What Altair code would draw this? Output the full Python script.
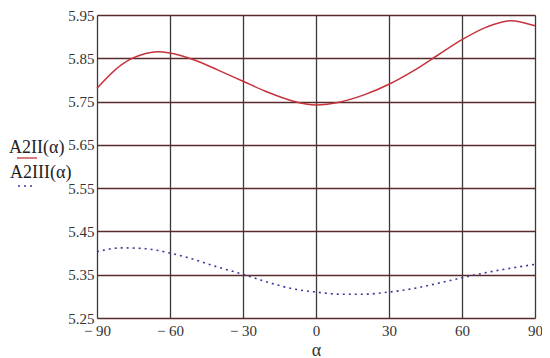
import altair as alt
import pandas as pd

alpha = [-90, -80, -70, -65, -60, -50, -40, -30, -20, -10, 0, 10, 20, 30, 40, 50, 60, 70, 80, 90]
a2ii = [5.781, 5.835, 5.861, 5.865, 5.862, 5.846, 5.822, 5.797, 5.772, 5.752, 5.742, 5.749, 5.766, 5.790,
        5.821, 5.857, 5.893, 5.922, 5.937, 5.925]
alpha_b = [-90, -80, -70, -60, -50, -40, -30, -20, -10, 0, 10, 20, 30, 40, 50, 60, 70, 80, 90]
a2iii = [5.403, 5.412, 5.410, 5.400, 5.385, 5.367, 5.351, 5.333, 5.318, 5.310, 5.305, 5.305, 5.310,
         5.318, 5.330, 5.343, 5.355, 5.365, 5.374]

x_ticks = [-90, -60, -30, 0, 30, 60, 90]
y_ticks = [5.25, 5.35, 5.45, 5.55, 5.65, 5.75, 5.85, 5.95]

df_r = pd.DataFrame({"alpha": alpha, "v": a2ii})
df_b = pd.DataFrame({"alpha": alpha_b, "v": a2iii})

FONT = "Liberation Serif"
W, H = 438, 303

xs = alt.Scale(domain=[-90, 90], nice=False, zero=False)
ys = alt.Scale(domain=[5.25, 5.95], nice=False, zero=False)

xaxis = alt.Axis(values=x_ticks, title="α", titleFont=FONT, titleFontSize=18, titleFontWeight="normal",
                 titleColor="#333", titleBaseline="alphabetic", titleY=37,
                 labelFont=FONT, labelFontSize=15, labelColor="#333",
                 labelPadding=5, ticks=False, domain=False, grid=True, gridColor="#3a3a3a", gridWidth=1.3,
                 labelExpr="datum.value < 0 ? '\u2212 ' + abs(datum.value) : datum.value",
                 labelFlush=False)
yaxis = alt.Axis(values=y_ticks, title=None, labelFont=FONT, labelFontSize=15, labelColor="#333",
                 labelPadding=3, ticks=False, domain=False, grid=True, gridColor="#5a2a2a", gridWidth=1.3,
                 format=".2f", labelFlush=False)

red = alt.Chart(df_r).mark_line(color="#c8323c", strokeWidth=1.5, interpolate="monotone").encode(
    x=alt.X("alpha:Q", scale=xs, axis=xaxis),
    y=alt.Y("v:Q", scale=ys, axis=yaxis),
)
blue = alt.Chart(df_b).mark_line(color="#3a3a9a", strokeWidth=1.6, strokeDash=[2, 4],
                                 interpolate="monotone").encode(
    x=alt.X("alpha:Q", scale=xs),
    y=alt.Y("v:Q", scale=ys),
)

lab1 = alt.Chart(pd.DataFrame({"t": ["A2II(α)"]})).mark_text(
    font=FONT, fontSize=18, color="#222", align="left", baseline="alphabetic").encode(
    text="t:N", x=alt.value(-88), y=alt.value(138))
lab2 = alt.Chart(pd.DataFrame({"t": ["A2III(α)"]})).mark_text(
    font=FONT, fontSize=18, color="#222", align="left", baseline="alphabetic").encode(
    text="t:N", x=alt.value(-87), y=alt.value(163))
u1 = alt.Chart(pd.DataFrame({"a": [0]})).mark_rule(color="#c8323c", strokeWidth=1.3).encode(
    x=alt.value(-80), x2=alt.value(-60), y=alt.value(143))
u2 = alt.Chart(pd.DataFrame({"a": [0]})).mark_rule(color="#3a3a9a", strokeWidth=1.5, strokeDash=[2, 4]).encode(
    x=alt.value(-79), x2=alt.value(-64), y=alt.value(171))

chart = alt.layer(red, blue, lab1, lab2, u1, u2).properties(
    width=W, height=H,
    autosize=alt.AutoSizeParams(type="none"),
    padding={"left": 89, "top": 7, "right": 7, "bottom": 38},
).configure_view(stroke="#555", strokeWidth=1.5).configure(background="white")

chart.save("out.html", embed_options={"renderer": "svg", "actions": False})
